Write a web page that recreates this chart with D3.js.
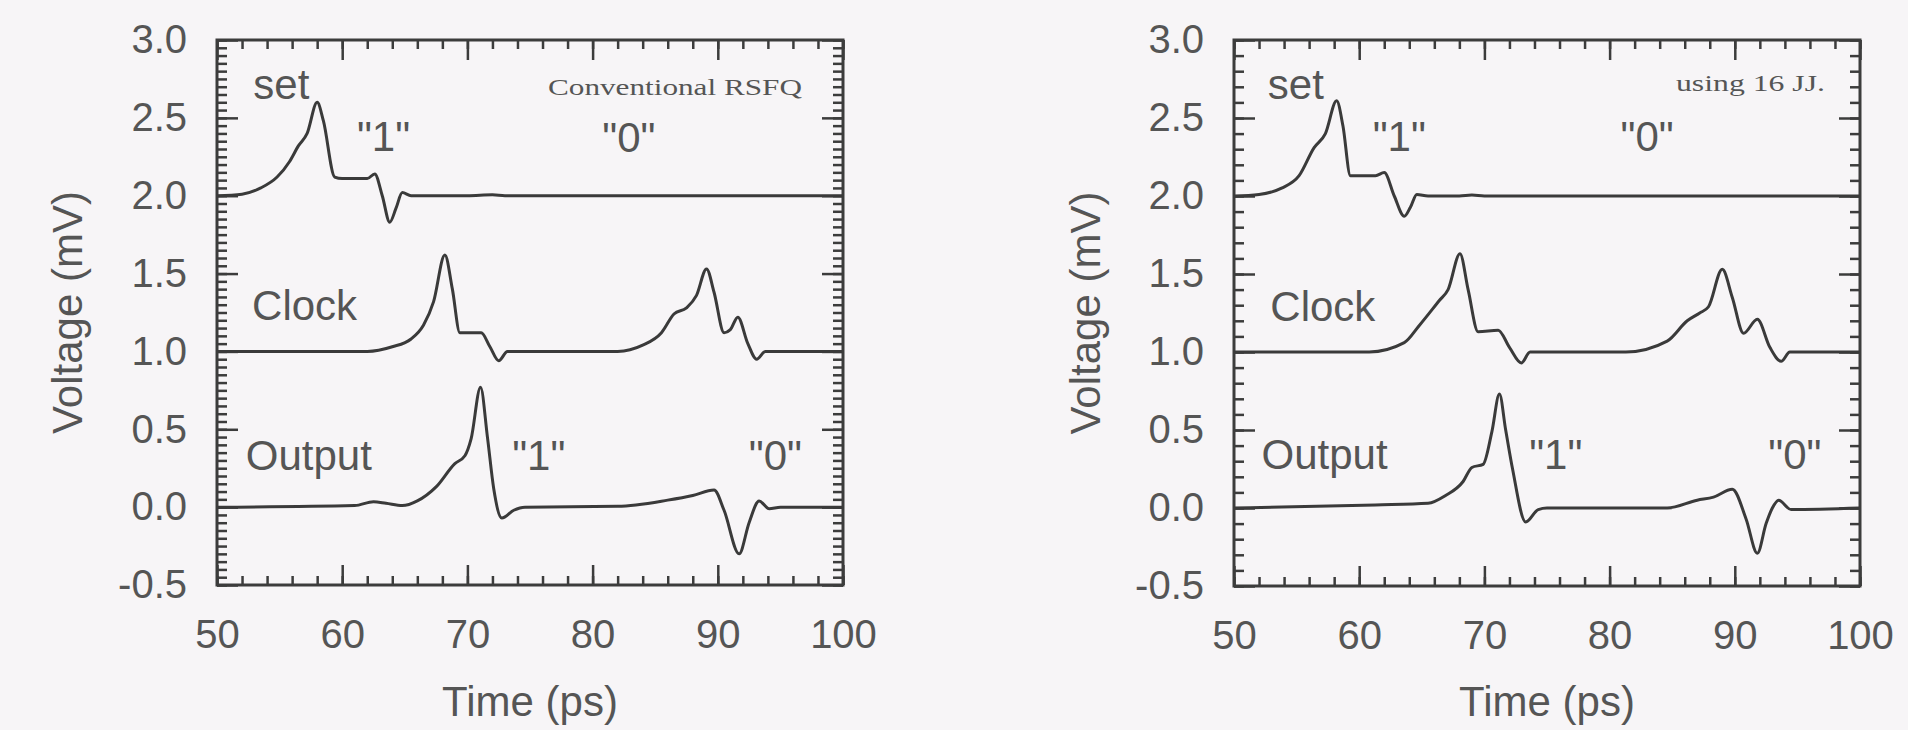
<!DOCTYPE html>
<html lang="en">
<head>
<meta charset="UTF-8">
<title>RSFQ output waveforms</title>
<style>
  body { margin: 0; background: #f7f5f7; }
  svg { display: block; }
  .tick text { font-family: "Liberation Sans", Arial, sans-serif; font-size: 40px; fill: #555; }
  .axis path, .axis line { stroke: #3c3c3c; }
  .lbl { font-family: "Liberation Sans", Arial, sans-serif; font-size: 42px; fill: #555; }
  .note { font-family: "Liberation Serif", "Times New Roman", serif; font-size: 24px; fill: #555; }
  .trace { fill: none; stroke: #3a3a3a; stroke-width: 3; stroke-linejoin: round; }
</style>
</head>
<body>
<svg width="1908" height="730"></svg>
<script src="https://d3js.org/d3.v7.min.js"></script>
<script>

// ---- data (time in ps, voltage in mV) ----
var xTicks = [50, 60, 70, 80, 90, 100];
var yTicks = [-0.5, 0.0, 0.5, 1.0, 1.5, 2.0, 2.5, 3.0];

// left panel: conventional RSFQ
var convSet = [[50,2.0],[52,2.01],[53.5,2.05],[54.8,2.12],[55.8,2.22],[56.5,2.32],[57.2,2.40],[58.0,2.60],
  [58.5,2.48],[59.4,2.12],[60,2.11],[62,2.11],[62.6,2.14],[63.2,2.0],[63.8,1.83],[64.3,1.92],[64.8,2.02],
  [65.5,2.0],[70,2.0],[72,2.006],[73,2.0],[100,2.0]];
var convClock = [[50,1.0],[62,1.0],[64,1.03],[65.5,1.08],[66.5,1.17],[67.3,1.32],[68.2,1.62],[68.8,1.40],
  [69.4,1.12],[70.5,1.12],[71.1,1.12],[71.8,1.03],[72.5,0.94],[73.2,1.0],[82,1.0],[84,1.04],[85.5,1.12],
  [86.5,1.24],[87.5,1.28],[88.3,1.36],[89.1,1.53],[89.7,1.38],[90.5,1.12],[91.0,1.14],[91.6,1.22],
  [92.4,1.05],[93.1,0.95],[93.8,1.0],[100,1.0]];
var convOutput = [[50,0.0],[61,0.01],[62.5,0.035],[63.5,0.025],[64.8,0.01],[66,0.04],[67.5,0.13],[69,0.28],
  [69.8,0.33],[70.3,0.44],[71.05,0.77],[71.6,0.45],[72.1,0.12],[72.75,-0.07],[73.7,-0.02],[74.6,0.0],
  [82,0.005],[86,0.045],[88,0.075],[89.7,0.11],[90.5,-0.02],[91.7,-0.30],[92.5,-0.1],[93.3,0.04],
  [94.1,-0.01],[95,0.0],[100,0.0]];

// right panel: 16 JJ version
var jjSet = [[50,2.0],[52,2.01],[53.8,2.05],[55.2,2.13],[56.4,2.31],[57.3,2.40],[58.2,2.61],[58.7,2.45],
  [59.3,2.13],[61.3,2.13],[62.0,2.15],[62.8,2.0],[63.6,1.87],[64.1,1.93],[64.6,2.01],[65.5,2.0],
  [68,2.0],[69,2.006],[70,2.0],[100,2.0]];
var jjClock = [[50,1.0],[60.8,1.0],[63.6,1.06],[64.8,1.17],[66.4,1.33],[67.1,1.40],[68.05,1.63],[68.7,1.40],
  [69.5,1.13],[71.1,1.14],[72.0,1.03],[72.95,0.93],[73.65,1.0],[81.3,1.0],[84.6,1.07],[86.2,1.2],
  [87.2,1.25],[87.9,1.29],[89.0,1.53],[89.8,1.35],[90.7,1.12],[91.8,1.21],[92.8,1.03],[93.7,0.94],
  [94.4,1.0],[100,1.0]];
var jjOutput = [[50,0.0],[61.3,0.02],[65.5,0.03],[66.9,0.08],[68.3,0.17],[69.0,0.26],[69.9,0.28],[70.6,0.49],
  [71.2,0.73],[71.7,0.5],[72.25,0.25],[73.3,-0.09],[74.3,-0.01],[75,0.0],[84.6,0.0],[87,0.05],[88.3,0.07],
  [89.8,0.12],[90.9,-0.07],[91.8,-0.29],[92.5,-0.1],[93.0,0.0],[93.5,0.05],[94.5,-0.01],[100,0.0]];

// annotations: [text, time, voltage, anchor]
var convLabels = [["set",52.9,2.62,"start"],["\"1\"",63.3,2.29,"middle"],["\"0\"",82.9,2.28,"middle"],
  ["Clock",52.8,1.2,"start"],["Output",52.3,0.24,"start"],["\"1\"",75.7,0.24,"middle"],["\"0\"",94.6,0.24,"middle"]];
var jjLabels = [["set",52.7,2.62,"start"],["\"1\"",63.2,2.29,"middle"],["\"0\"",83.0,2.29,"middle"],
  ["Clock",52.9,1.2,"start"],["Output",52.2,0.25,"start"],["\"1\"",75.7,0.25,"middle"],["\"0\"",94.8,0.25,"middle"]];

var panels = [
  { left: 217, right: 843, top: 40, bottom: 585, ylabelX: 82, minorY: 0.05,
    series: [convSet, convClock, convOutput], labels: convLabels,
    note: "Conventional RSFQ", noteEnd: 802, noteLen: 254, noteV: 2.65 },
  { left: 1234, right: 1860, top: 40, bottom: 586, ylabelX: 1100, minorY: 0.1,
    series: [jjSet, jjClock, jjOutput], labels: jjLabels,
    note: "using 16 JJ.", noteEnd: 1825, noteLen: 149, noteV: 2.67 }
];

var svg = d3.select("svg");

panels.forEach(function(p) {
  var x = d3.scaleLinear().domain([50, 100]).range([p.left, p.right]);
  var y = d3.scaleLinear().domain([-0.5, 3.0]).range([p.bottom, p.top]);
  var g = svg.append("g");

  var minorX = d3.range(50, 100.01, 2);
  var minorYs = d3.range(-0.5, 3.0001, p.minorY);

  // minor ticks
  g.append("g").attr("class", "axis").attr("transform", "translate(0," + p.bottom + ")")
    .call(d3.axisBottom(x).tickValues(minorX).tickSize(-9).tickFormat(""));
  g.append("g").attr("class", "axis").attr("transform", "translate(0," + p.top + ")")
    .call(d3.axisTop(x).tickValues(minorX).tickSize(-9).tickFormat(""));
  g.append("g").attr("class", "axis").attr("transform", "translate(" + p.left + ",0)")
    .call(d3.axisLeft(y).tickValues(minorYs).tickSize(-10).tickFormat(""));
  g.append("g").attr("class", "axis").attr("transform", "translate(" + p.right + ",0)")
    .call(d3.axisRight(y).tickValues(minorYs).tickSize(-10).tickFormat(""));

  // major ticks + labels
  g.append("g").attr("class", "axis").attr("transform", "translate(0," + p.bottom + ")")
    .call(d3.axisBottom(x).tickValues(xTicks).tickSize(-20).tickPadding(35).tickSizeOuter(0));
  g.append("g").attr("class", "axis").attr("transform", "translate(0," + p.top + ")")
    .call(d3.axisTop(x).tickValues(xTicks).tickSize(-20).tickFormat(""));
  g.append("g").attr("class", "axis").attr("transform", "translate(" + p.left + ",0)")
    .call(d3.axisLeft(y).tickValues(yTicks).tickSize(-21).tickPadding(30).tickFormat(d3.format(".1f")));
  g.append("g").attr("class", "axis").attr("transform", "translate(" + p.right + ",0)")
    .call(d3.axisRight(y).tickValues(yTicks).tickSize(-21).tickFormat(""));

  g.selectAll(".axis path.domain").remove();
  g.selectAll(".axis line").attr("stroke-width", 2.5);
  g.selectAll(".tick text").text(function() { return this.textContent.replace("\u2212", "-"); });

  // frame
  g.append("rect").attr("x", p.left).attr("y", p.top)
    .attr("width", p.right - p.left).attr("height", p.bottom - p.top)
    .attr("fill", "none").attr("stroke", "#3c3c3c").attr("stroke-width", 3);

  // traces
  var line = d3.line().x(function(d) { return x(d[0]); }).y(function(d) { return y(d[1]); })
    .curve(d3.curveMonotoneX);
  g.selectAll(".trace").data(p.series).enter().append("path")
    .attr("class", "trace").attr("d", line);

  // annotations
  g.selectAll(".ann").data(p.labels).enter().append("text")
    .attr("class", "lbl")
    .attr("x", function(d) { return x(d[1]); })
    .attr("y", function(d) { return y(d[2]); })
    .attr("text-anchor", function(d) { return d[3]; })
    .text(function(d) { return d[0]; });

  g.append("text").attr("class", "note")
    .attr("x", p.noteEnd - p.noteLen).attr("y", y(p.noteV))
    .attr("textLength", p.noteLen).attr("lengthAdjust", "spacingAndGlyphs")
    .text(p.note);

  // axis titles
  g.append("text").attr("class", "lbl").attr("text-anchor", "middle")
    .attr("x", (p.left + p.right) / 2).attr("y", 716)
    .text("Time (ps)");
  g.append("text").attr("class", "lbl").attr("text-anchor", "middle")
    .attr("transform", "translate(" + p.ylabelX + "," + ((p.top + p.bottom) / 2) + ") rotate(-90)")
    .text("Voltage (mV)");
});

</script>
</body>
</html>
